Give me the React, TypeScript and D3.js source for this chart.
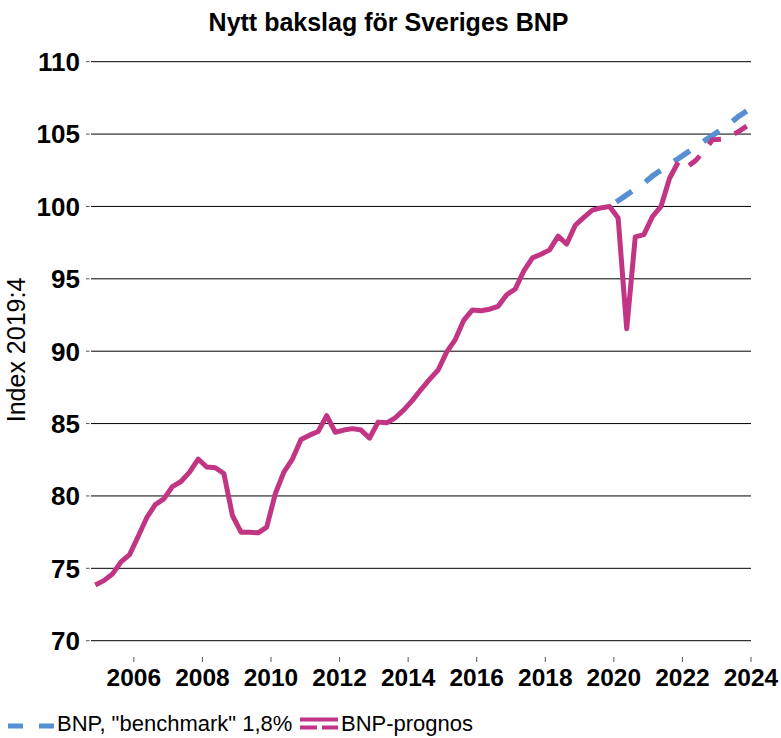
import * as d3 from 'd3';
import React, { useEffect, useRef } from 'react';

// first quarter in the series is 2004 Q4, one value per quarter
const firstYear = 2004;
const firstQuarter = 4;

// BNP utfall, index 2019:4 = 100 (2004 Q4 .. 2021 Q4)
const actual = [
  73.85, 74.15, 74.6, 75.45, 75.95, 77.2, 78.5, 79.4, 79.8, 80.65, 81.0, 81.65, 82.55, 82.0, 81.95,
  81.55, 78.65, 77.5, 77.5, 77.45, 77.85, 80.15, 81.65, 82.55, 83.9, 84.2, 84.45, 85.55, 84.4, 84.55,
  84.65, 84.55, 84.0, 85.1, 85.05, 85.4, 85.95, 86.6, 87.35, 88.05, 88.7, 89.95, 90.8, 92.15, 92.85,
  92.8, 92.9, 93.1, 93.9, 94.3, 95.55, 96.45, 96.7, 97.0, 97.95, 97.4, 98.7, 99.25, 99.75, 99.9, 100.0,
  99.2, 91.55, 97.9, 98.05, 99.3, 100.0, 101.95, 103.05,
];

// prognos 2022 Q1 .. 2023 Q4
const forecastStart = 69;
const forecast = [102.7, 103.15, 103.8, 104.6, 104.65, 104.85, 105.15, 105.55];

// benchmark 1,8 %, 2019 Q4 .. 2023 Q4
const benchmarkStart = 60;
const benchmark = [
  100.0, 100.4, 100.8, 101.2, 101.6, 102.1, 102.5, 102.9, 103.3, 103.7, 104.1, 104.5, 104.9, 105.3,
  105.7, 106.2, 106.6,
];

const yTicks = [70, 75, 80, 85, 90, 95, 100, 105, 110];
const xTicks = [2006, 2008, 2010, 2012, 2014, 2016, 2018, 2020, 2022, 2024];

const width = 781;
const height = 738;
const font = 'Liberation Sans, Arial, Helvetica, sans-serif';
const magenta = '#C13584';
const blue = '#5790D2';

type Pt = { t: number; v: number };

// mid-quarter time of point i
const timeOf = (i: number) => {
  const q = firstQuarter - 1 + i;
  return firstYear + Math.floor(q / 4) + ((q % 4) + 0.5) / 4;
};

export default function App() {
  const ref = useRef<SVGSVGElement | null>(null);

  useEffect(() => {
    document.body.style.margin = '0';
    const svg = d3.select(ref.current);
    svg.selectAll('*').remove();

    const x = d3.scaleLinear().domain([2004.75, 2024]).range([91, 751]);
    const y = d3.scaleLinear().domain([70, 110]).range([640.7, 61.7]);

    svg.append('rect').attr('width', width).attr('height', height).attr('fill', '#fff');

    // title
    svg
      .append('text')
      .attr('x', 388.5)
      .attr('y', 31)
      .attr('text-anchor', 'middle')
      .attr('font-family', font)
      .attr('font-weight', 'bold')
      .attr('font-size', 25)
      .text('Nytt bakslag för Sveriges BNP');

    // horizontal grid + small ticks + labels
    yTicks.forEach(v => {
      svg
        .append('line')
        .attr('x1', 91)
        .attr('x2', 751)
        .attr('y1', y(v))
        .attr('y2', y(v))
        .attr('stroke', '#000')
        .attr('stroke-width', 1);
      svg
        .append('line')
        .attr('x1', 86)
        .attr('x2', 89.5)
        .attr('y1', y(v))
        .attr('y2', y(v))
        .attr('stroke', '#555')
        .attr('stroke-width', 1);
      svg
        .append('text')
        .attr('x', 80)
        .attr('y', y(v))
        .attr('dy', '0.36em')
        .attr('text-anchor', 'end')
        .attr('font-family', font)
        .attr('font-weight', 'bold')
        .attr('font-size', 26)
        .text(v);
    });

    // year ticks below the plot
    xTicks.forEach(t => {
      svg
        .append('line')
        .attr('x1', x(t))
        .attr('x2', x(t))
        .attr('y1', 657)
        .attr('y2', 662)
        .attr('stroke', '#555')
        .attr('stroke-width', 1);
      svg
        .append('text')
        .attr('x', x(t))
        .attr('y', 686)
        .attr('text-anchor', 'middle')
        .attr('font-family', font)
        .attr('font-weight', 'bold')
        .attr('font-size', 24.5)
        .text(t);
    });

    // y axis title
    svg
      .append('text')
      .attr('transform', 'translate(25,350) rotate(-90)')
      .attr('text-anchor', 'middle')
      .attr('font-family', font)
      .attr('font-size', 25)
      .text('Index 2019:4');

    const line = d3
      .line<Pt>()
      .x(d => x(d.t))
      .y(d => y(d.v));

    const actualPts = actual.map((v, i) => ({ t: timeOf(i), v }));
    const forecastPts = forecast.map((v, i) => ({ t: timeOf(forecastStart + i), v }));
    const benchPts = benchmark.map((v, i) => ({ t: timeOf(benchmarkStart + i), v }));

    // benchmark first, prognos is drawn over it
    svg
      .append('path')
      .attr('d', line(benchPts) ?? '')
      .attr('fill', 'none')
      .attr('stroke', blue)
      .attr('stroke-width', 5.5)
      .attr('stroke-dasharray', '19 16.4')
      .attr('stroke-dashoffset', 27.4);

    svg
      .append('path')
      .attr('d', line(actualPts) ?? '')
      .attr('fill', 'none')
      .attr('stroke', magenta)
      .attr('stroke-width', 5)
      .attr('stroke-linejoin', 'round');

    svg
      .append('path')
      .attr('d', line(forecastPts) ?? '')
      .attr('fill', 'none')
      .attr('stroke', magenta)
      .attr('stroke-width', 5)
      .attr('stroke-dasharray', '14.5 14.5')
      .attr('stroke-dashoffset', 26);

    // legend
    const lg = svg.append('g').attr('font-family', font).attr('font-size', 22);
    lg.append('line')
      .attr('x1', 8)
      .attr('x2', 55)
      .attr('y1', 726)
      .attr('y2', 726)
      .attr('stroke', blue)
      .attr('stroke-width', 5)
      .attr('stroke-dasharray', '15 16');
    lg.append('text').attr('x', 57).attr('y', 731).text('BNP, "benchmark" 1,8%');
    lg.append('line')
      .attr('x1', 300)
      .attr('x2', 338)
      .attr('y1', 719.5)
      .attr('y2', 719.5)
      .attr('stroke', magenta)
      .attr('stroke-width', 4);
    lg.append('line')
      .attr('x1', 300)
      .attr('x2', 338)
      .attr('y1', 727.5)
      .attr('y2', 727.5)
      .attr('stroke', magenta)
      .attr('stroke-width', 4)
      .attr('stroke-dasharray', '17 5');
    lg.append('text').attr('x', 341).attr('y', 731).text('BNP-prognos');
  }, []);

  return <svg ref={ref} width={width} height={height} style={{ display: 'block' }} />;
}
